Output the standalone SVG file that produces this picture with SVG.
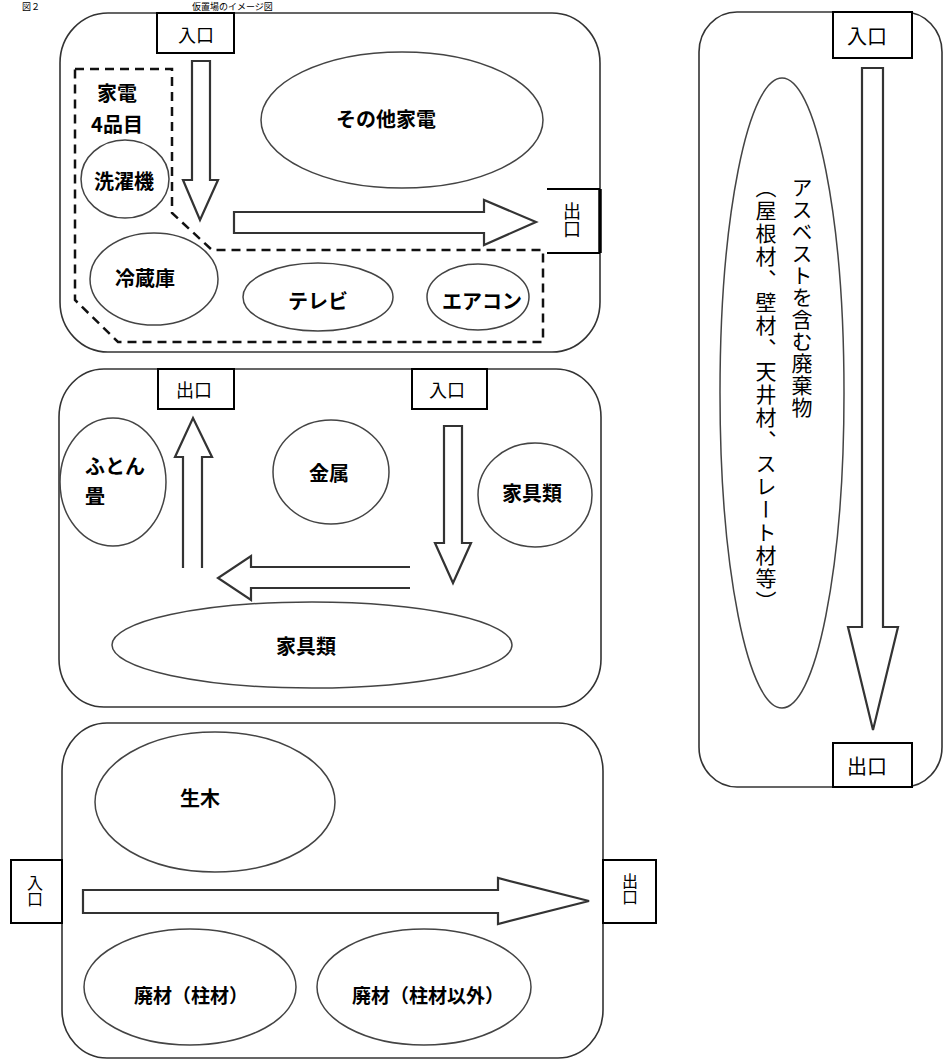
<svg xmlns="http://www.w3.org/2000/svg" width="943" height="1062" viewBox="0 0 943 1062">
<style>
  .area { fill: none; stroke: #333; stroke-width: 1.6; }
  .item { fill: #fff; stroke: #444; stroke-width: 1.5; }
  .label { fill: #fff; stroke: #000; stroke-width: 2; }
  .arrow { fill: #fff; stroke: #333; stroke-width: 2.2; stroke-linejoin: miter; }
  .dash { fill: none; stroke: #111; stroke-width: 2.5; stroke-dasharray: 9 6; }
  text { font-family: "Noto Sans CJK JP", "Noto Sans", sans-serif; fill: #000; }
  .t { font-size: 20px; font-weight: bold; text-anchor: middle; dominant-baseline: central; }
  .lb { font-size: 18px; text-anchor: middle; dominant-baseline: central; }
  .v { writing-mode: vertical-rl; text-anchor: start; }
</style>

<!-- title -->
<g id="title">
  <text x="22" y="6" style="font-size:9px;dominant-baseline:central">図２</text>
  <text x="192" y="6" style="font-size:9px;dominant-baseline:central">仮置場のイメージ図</text>
</g>

<!-- Area 1: home appliances -->
<g id="area1">
  <rect class="area" x="60" y="13" width="540" height="339" rx="48" ry="50"/>
  <path class="dash" d="M75,69 H172 V213 L212,250 H543 V342 H118 L75,300 Z"/>
  <text class="t" x="117" y="92">家電</text>
  <text class="t" x="117" y="123">4品目</text>
</g>
<g id="area1-entrance">
  <rect class="label" x="157" y="13" width="77" height="40"/>
  <text class="lb" x="196" y="34">入口</text>
</g>
<g id="area1-exit">
  <path fill="#fff" stroke="#000" stroke-width="2" d="M547,189 H600 M547,253 H600"/>
  <path stroke="#000" stroke-width="3.5" d="M600,189 V253"/>
  <text class="v" x="572" y="202" style="font-size:18px">出口</text>
</g>
<g id="washer">
  <ellipse class="item" cx="125" cy="179" rx="44" ry="39"/>
  <text class="t" x="124" y="180">洗濯機</text>
</g>
<g id="other-appliances">
  <ellipse class="item" cx="402" cy="120" rx="141" ry="68"/>
  <text class="t" x="386" y="118">その他家電</text>
</g>
<g id="fridge">
  <ellipse class="item" cx="154" cy="279" rx="64" ry="46"/>
  <text class="t" x="145" y="277">冷蔵庫</text>
</g>
<g id="tv">
  <ellipse class="item" cx="318" cy="297" rx="75" ry="34"/>
  <text class="t" x="318" y="300">テレビ</text>
</g>
<g id="aircon">
  <ellipse class="item" cx="478" cy="297" rx="51" ry="33"/>
  <text class="t" x="482" y="300">エアコン</text>
</g>

<!-- Area 2: furniture / metal -->
<g id="area2">
  <rect class="area" x="59" y="369" width="542" height="338" rx="45" ry="48"/>
</g>
<g id="area2-exit">
  <rect class="label" x="158" y="369" width="76" height="40"/>
  <text class="lb" x="194" y="389">出口</text>
</g>
<g id="area2-entrance">
  <rect class="label" x="412" y="369" width="75" height="40"/>
  <text class="lb" x="447" y="389">入口</text>
</g>
<g id="futon">
  <ellipse class="item" cx="113" cy="482" rx="53" ry="64"/>
  <text x="85" y="465" style="font-size:20px;font-weight:bold;dominant-baseline:central">ふとん</text>
  <text x="85" y="495" style="font-size:20px;font-weight:bold;dominant-baseline:central">畳</text>
</g>
<g id="metal">
  <ellipse class="item" cx="331" cy="472" rx="58" ry="52"/>
  <text class="t" x="329" y="472">金属</text>
</g>
<g id="furniture-small">
  <ellipse class="item" cx="535" cy="495" rx="57" ry="52"/>
  <text class="t" x="532" y="492">家具類</text>
</g>
<g id="furniture-large">
  <ellipse class="item" cx="312" cy="645" rx="200" ry="43"/>
  <text class="t" x="306" y="645">家具類</text>
</g>

<!-- Area 3: wood -->
<g id="area3">
  <rect class="area" x="62" y="723" width="541" height="335" rx="45" ry="48"/>
</g>
<g id="area3-entrance">
  <rect class="label" x="11" y="860" width="51" height="63"/>
  <text class="v" x="35" y="875" style="font-size:16px">入口</text>
</g>
<g id="area3-exit">
  <rect class="label" x="603" y="860" width="53" height="63"/>
  <text class="v" x="630" y="873" style="font-size:16px">出口</text>
</g>
<g id="raw-wood">
  <ellipse class="item" cx="215" cy="802" rx="120" ry="70"/>
  <text class="t" x="200" y="797">生木</text>
</g>
<g id="waste-pillar">
  <ellipse class="item" cx="190" cy="987" rx="106" ry="58"/>
  <text class="t" x="191" y="994" style="font-size:19px">廃材（柱材）</text>
</g>
<g id="waste-other">
  <ellipse class="item" cx="424" cy="987" rx="107" ry="58"/>
  <text class="t" x="428" y="994" style="font-size:19px">廃材（柱材以外）</text>
</g>

<!-- Area 4: asbestos -->
<g id="area4">
  <rect class="area" x="699" y="12" width="243" height="775" rx="38" ry="40"/>
</g>
<g id="area4-entrance">
  <rect class="label" x="833" y="12" width="79" height="46"/>
  <text class="lb" x="867" y="35" style="font-size:20px">入口</text>
</g>
<g id="area4-exit">
  <rect class="label" x="833" y="743" width="79" height="44"/>
  <text class="lb" x="867" y="765" style="font-size:20px">出口</text>
</g>
<g id="asbestos">
  <ellipse class="item" cx="782" cy="393" rx="62" ry="315"/>
  <text class="v" x="802" y="177" style="font-size:21px;letter-spacing:1px">アスベストを含む廃棄物</text>
  <text class="v" x="766" y="177" style="font-size:21px;letter-spacing:2px">（屋根材、壁材、天井材、スレート材等）</text>
</g>

<!-- flow arrows -->
<g id="connectors">
  <path class="arrow" d="M192,61 H210 V180 H218 L200,220 L183,180 H192 Z"/>
  <path class="arrow" d="M234,212 H484 V200 L536,222 L484,245 V233 H234 Z"/>
  <path class="arrow" d="M183,568 V457 H175 L193,418 L212,457 H202 V568"/>
  <path class="arrow" d="M444,426 H462 V543 H471 L453,583 L435,543 H444 Z"/>
  <path class="arrow" d="M410,567 H251 V556 L218,578 L251,600 V588 H410"/>
  <path class="arrow" d="M83,890 H498 V878 L589,901 L498,924 V913 H83 Z"/>
  <path class="arrow" d="M862,68 H883 V627 H898 L873,730 L848,627 H862 Z"/>
</g>
</svg>
